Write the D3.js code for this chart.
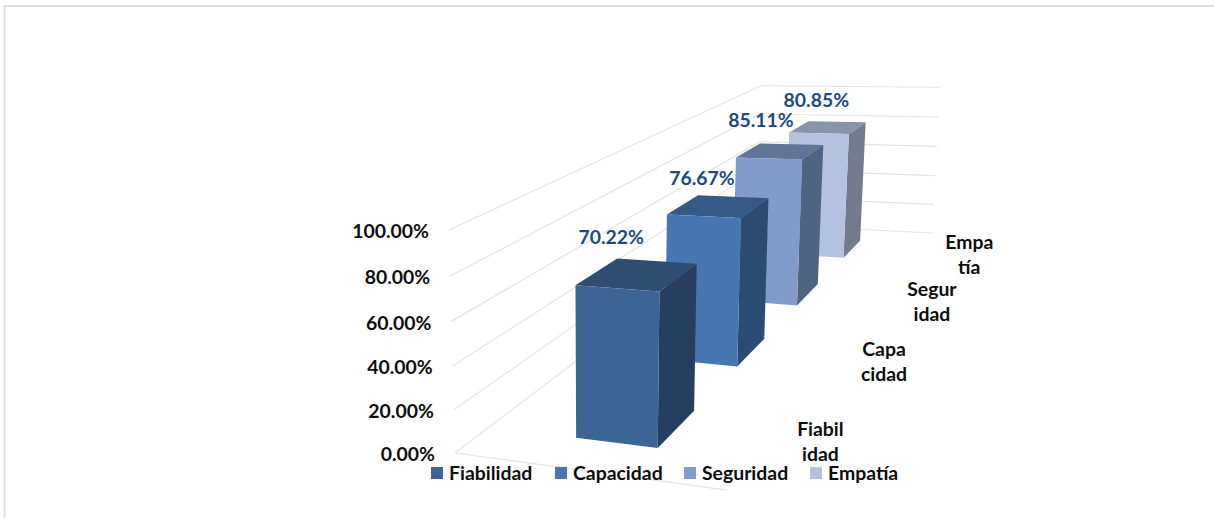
<!DOCTYPE html>
<html>
<head>
<meta charset="utf-8">
<script src="https://cdn.jsdelivr.net/npm/d3@7"></script>
<style>
html,body{margin:0;padding:0;background:#fff}
svg{display:block}
text{font-family:Lato,"Open Sans",sans-serif;font-weight:700}
</style>
</head>
<body>
<svg id="chart" width="1214" height="519"></svg>
<script>
const categories = ["Fiabilidad", "Capacidad", "Seguridad", "Empatía"];
const categoryLines = [["Fiabil", "idad"], ["Capa", "cidad"], ["Segur", "idad"], ["Empa", "tía"]];
const values = [0.7022, 0.7667, 0.8511, 0.8085];
const valueLabels = ["70.22%", "76.67%", "85.11%", "80.85%"];
const tickValues = [0, 0.2, 0.4, 0.6, 0.8, 1];
const tickLabels = ["0.00%", "20.00%", "40.00%", "60.00%", "80.00%", "100.00%"];
const frontColors = ["#3c6494", "#4776b0", "#7f9ccb", "#b4c2de"];
const sideColors = ["#273f5e", "#2d4b71", "#506480", "#747b8d"];
const topColors = ["#2e4d72", "#365a87", "#5f769a", "#8894aa"];

const svg = d3.select("#chart");
const fontSize = 19.4;

// Frame
svg.append("path").attr("d", "M4.5,518V6H1214").attr("fill", "none").attr("stroke", "#e0e0e0").attr("stroke-width", 2);

// Scales in model space
const yScale = d3.scaleLinear().domain([0, 1]).range([0, 1]);
const zBand = d3.scaleBand().domain(categories).range([0, 1]);

// Perspective projection of the 3D box: X across, Y up, Z into the page
function project(X, Y, Z) {
  const w = 1 - 0.086 * X + 0.655 * Z - 0.04 * Y;
  return [
    (209.5 * X + 797.8 * Z + 455 - 24 * Y) / w,
    (-5.1 * X - 82.3 * Z + 453 - 232.2 * Y) / w
  ];
}
const poly = d3.line();

// Grid
const grid = svg.append("g").attr("fill", "none").attr("stroke", "#e4e4e4").attr("stroke-width", 1.2);
tickValues.forEach(t => {
  const Y = yScale(t);
  grid.append("path").attr("d", poly([project(0, Y, 0), project(0, Y, 1), project(1, Y, 1)]));
});
grid.append("path").attr("d", poly([project(0, 0, 0), project(1, 0, 0)]));

// Tick labels
svg.append("g").selectAll("text").data(tickValues).join("text")
  .attr("x", d => project(0, yScale(d), 0)[0] - 20)
  .attr("y", d => project(0, yScale(d), 0)[1] + 1.5)
  .attr("dy", "0.35em").attr("text-anchor", "end")
  .attr("font-size", fontSize).attr("fill", "#0d0d0d")
  .text((d, i) => tickLabels[i]);

// Bars, from back to front
const x0 = 0.35, x1 = 0.662, barDepth = 0.105;
const order = d3.range(categories.length).reverse();
const bars = svg.append("g");
order.forEach(i => {
  const zc = zBand(categories[i]) + zBand.bandwidth() / 2;
  const z0 = zc - barDepth / 2, z1 = zc + barDepth / 2;
  const Y = yScale(values[i]);
  const g = bars.append("g");
  g.append("path").attr("fill", sideColors[i]).attr("d", poly([project(x1, 0, z0), project(x1, 0, z1), project(x1, Y, z1), project(x1, Y, z0)]) + "Z");
  g.append("path").attr("fill", topColors[i]).attr("d", poly([project(x0, Y, z0), project(x1, Y, z0), project(x1, Y, z1), project(x0, Y, z1)]) + "Z");
  g.append("path").attr("fill", frontColors[i]).attr("d", poly([project(x0, 0, z0), project(x1, 0, z0), project(x1, Y, z0), project(x0, Y, z0)]) + "Z");
});

// Value labels
const labelShift = [[-6, -21], [4, -17], [1, -23], [8, -21]];
svg.append("g").selectAll("text").data(values).join("text")
  .attr("x", (d, i) => project(x0, yScale(d), zBand(categories[i]) + zBand.bandwidth() / 2 + barDepth / 2)[0] + labelShift[i][0])
  .attr("y", (d, i) => project(x0, yScale(d), zBand(categories[i]) + zBand.bandwidth() / 2 + barDepth / 2)[1] + labelShift[i][1])
  .attr("dy", "0.35em").attr("text-anchor", "middle")
  .attr("font-size", fontSize).attr("fill", "#1f497d")
  .text((d, i) => valueLabels[i]);

// Category labels (wrapped, as in the source)
const catG = svg.append("g");
categories.forEach((c, i) => {
  const p = project(1, 0, zBand(c) + zBand.bandwidth() / 2);
  categoryLines[i].forEach((line, k) => {
    catG.append("text")
      .attr("x", p[0] + 53).attr("y", p[1] + 2 + (k - 0.5) * 25)
      .attr("dy", "0.35em").attr("text-anchor", "middle")
      .attr("font-size", fontSize).attr("fill", "#0d0d0d").text(line);
  });
});

// Legend
const legendX = [431, 555, 684, 810];
const legend = svg.append("g").selectAll("g").data(categories).join("g")
  .attr("transform", (d, i) => `translate(${legendX[i]},467)`);
legend.append("rect").attr("width", 12).attr("height", 12).attr("fill", (d, i) => frontColors[i]);
legend.append("text").attr("x", 18).attr("y", 6.5).attr("dy", "0.35em")
  .attr("font-size", fontSize).attr("fill", "#0d0d0d").text(d => d);
</script>
</body>
</html>
